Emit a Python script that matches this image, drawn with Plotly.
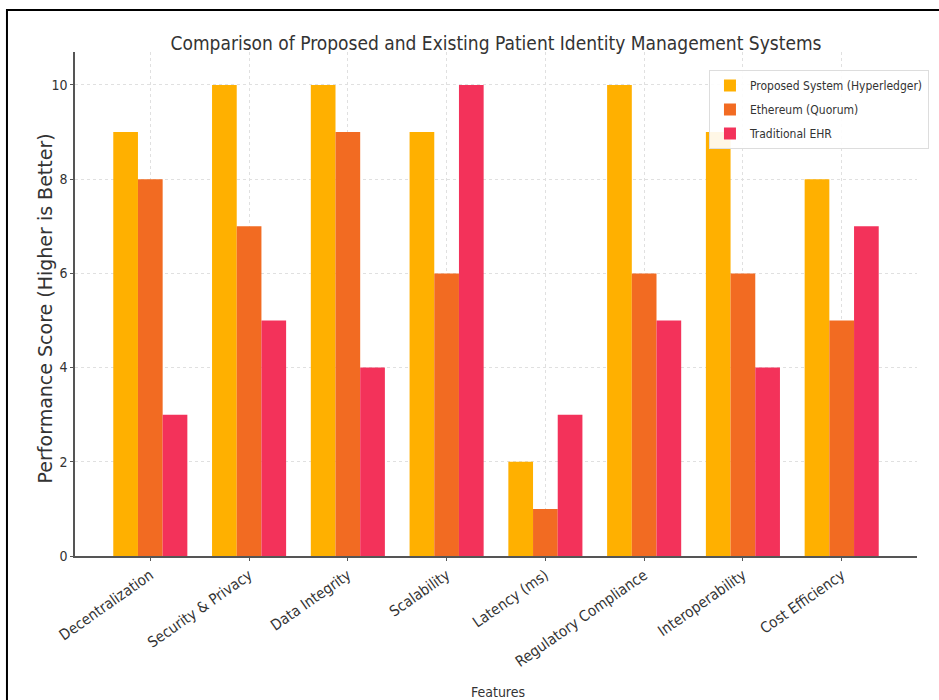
import plotly.graph_objects as go

categories = ["Decentralization", "Security & Privacy", "Data Integrity", "Scalability",
              "Latency (ms)", "Regulatory Compliance", "Interoperability", "Cost Efficiency"]
proposed = [9, 10, 10, 9, 2, 10, 9, 8]
ethereum = [8, 7, 9, 6, 1, 6, 6, 5]
traditional = [3, 5, 4, 10, 3, 5, 4, 7]
series_names = ["Proposed System (Hyperledger)", "Ethereum (Quorum)", "Traditional EHR"]
colors = ["#FFB000", "#F26B22", "#F3325A"]

FONT = "DejaVu Sans Condensed, Liberation Sans Narrow, DejaVu Sans, sans-serif"
TXT = "#333333"

fig = go.Figure()
for i, (name, vals, col) in enumerate(zip(series_names, [proposed, ethereum, traditional], colors)):
    fig.add_trace(go.Bar(x=categories, y=vals, name=name, marker_color=col,
                         marker_line_width=0, legendgroup=f"g{i}"))

W, H = 939, 700
L, R, T, B = 75, 10, 52, 144
pw, ph = W - L - R, H - T - B

def px(x):
    return (x - L) / pw

def py(y):
    return (H - B - y) / ph

fig.add_shape(type="rect", xref="paper", yref="paper",
              x0=px(6), x1=px(960), y0=py(720), y1=py(10),
              line=dict(color="black", width=2), layer="above")

fig.add_annotation(text="Features", xref="paper", yref="paper",
                   x=px(504), y=py(692), xanchor="center", yanchor="middle",
                   showarrow=False, font=dict(family=FONT, size=14, color=TXT))
fig.add_annotation(text="Performance Score (Higher is Better)", xref="paper", yref="paper",
                   x=px(45), y=py(308), xanchor="center", yanchor="middle", textangle=-90,
                   showarrow=False, font=dict(family="DejaVu Sans, sans-serif", size=19, color=TXT))

fig.update_layout(
    width=W, height=H,
    margin=dict(l=L, r=R, t=T, b=B),
    barmode="group", bargap=0.25, bargroupgap=0,
    plot_bgcolor="white", paper_bgcolor="white",
    font=dict(family=FONT, color=TXT, size=13),
    title=dict(text="Comparison of Proposed and Existing Patient Identity Management Systems",
               xref="paper", x=0.5, xanchor="center", y=1 - 43 / H, yanchor="middle",
               font=dict(family=FONT, size=19, color=TXT)),
    legend=dict(x=px(718), y=py(70), xanchor="left", yanchor="top",
                bgcolor="rgba(255,255,255,0.9)", bordercolor="#DDDDDD", borderwidth=1,
                font=dict(family=FONT, size=12, color=TXT),
                tracegroupgap=5),
    xaxis=dict(range=[-0.7625, 7.7625], tickangle=-35,
               showline=True, linecolor="#555555", linewidth=1.5,
               showgrid=True, gridcolor="#E0E0E0", griddash="dot",
               ticks="outside", ticklen=3, tickcolor="#555555",
               tickfont=dict(family=FONT, size=15, color=TXT)),
    yaxis=dict(range=[0, 10.7], tickvals=[0, 2, 4, 6, 8, 10],
               showline=True, linecolor="#555555", linewidth=1.5,
               showgrid=True, gridcolor="#E0E0E0", griddash="dot",
               zeroline=False,
               ticks="outside", ticklen=3, tickcolor="#555555",
               tickfont=dict(family=FONT, size=14, color=TXT)),
)

fig.write_html("out.html")
